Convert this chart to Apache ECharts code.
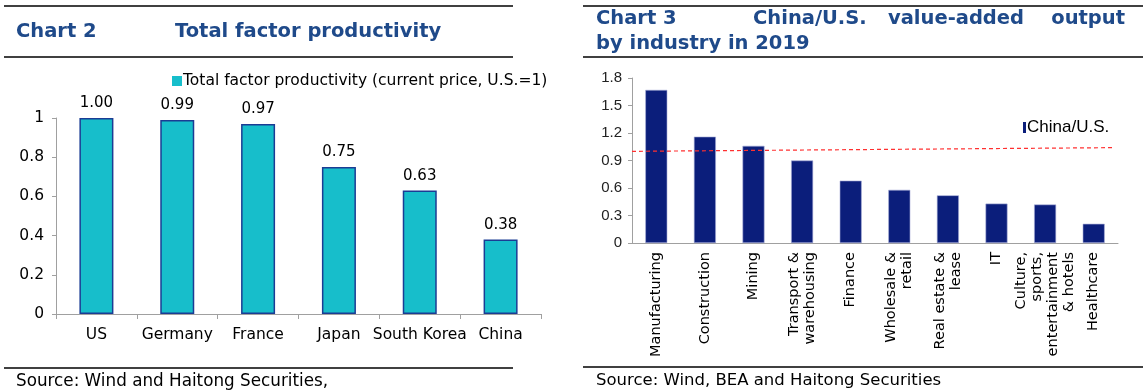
<!DOCTYPE html>
<html>
<head>
<meta charset="utf-8">
<script src="https://cdn.jsdelivr.net/npm/echarts@6/dist/echarts.min.js"></script>
<style>
html,body{margin:0;padding:0;background:#fff;}
#c{width:1147px;height:392px;}
</style>
</head>
<body>
<div id="c"></div>
<script>
// ---- Chart 2 data ----
const tfpCountries = ['US', 'Germany', 'France', 'Japan', 'South Korea', 'China'];
const tfpValues = [1.00, 0.99, 0.97, 0.75, 0.63, 0.38];
const tfpSeriesName = 'Total factor productivity (current price, U.S.=1)';
const tfpTicks = { min: 0, max: 1, interval: 0.2 };

// ---- Chart 3 data ----
const industries = ['Manufacturing', 'Construction', 'Mining', 'Transport &\nwarehousing', 'Finance',
  'Wholesale &\nretail', 'Real estate &\nlease', 'IT', 'Culture,\nsports,\nentertainment\n& hotels', 'Healthcare'];
const chinaUsRatio = [1.67, 1.16, 1.06, 0.90, 0.68, 0.58, 0.52, 0.43, 0.42, 0.21];
const ratioSeriesName = 'China/U.S.';
const ratioTicks = { min: 0, max: 1.8, interval: 0.3 };
// dashed reference line (relative horizontal position 0..1, value)
const refLineX = [0, 0.988];
const refLineY = [1.0, 1.04];

const titleColor = '#1F4A8A';
const verd = 'DejaVu Sans';
const arial = 'Liberation Sans';

const chart = echarts.init(document.getElementById('c'), null, { renderer: 'canvas' });

function hline(x1, x2, y) {
  return { type: 'line', shape: { x1: x1, y1: y, x2: x2, y2: y }, style: { stroke: '#000', lineWidth: 1.5 }, silent: true };
}
function txt(x, y, s, opts) {
  return { type: 'text', x: x, y: y, style: Object.assign({
    text: s, fill: titleColor, font: 'bold 19.5px "' + verd + '"', textVerticalAlign: 'middle' }, opts || {}) };
}

const option = {
  animation: false,
  backgroundColor: '#fff',
  textStyle: { fontFamily: verd },
  graphic: [
    hline(4, 513, 6), hline(4, 513, 57),
    hline(583, 1143, 6), hline(583, 1143, 57),
    hline(4, 513, 368), hline(583, 1143, 367),
    txt(16, 32, 'Chart 2'),
    txt(175, 32, 'Total factor productivity'),
    txt(596, 19, 'Chart 3'),
    txt(753, 19, 'China/U.S.'),
    txt(888, 19, 'value-added'),
    txt(1125, 19, 'output', { textAlign: 'right' }),
    txt(596, 44, 'by industry in 2019'),
    txt(16, 382, 'Source: Wind and Haitong Securities,', { fill: '#000', font: '16.8px "' + verd + '"' }),
    txt(596, 381, 'Source: Wind, BEA and Haitong Securities', { fill: '#000', font: '16.5px "' + verd + '"' })
  ],
  legend: [
    {
      data: [tfpSeriesName], left: 167, top: 68, itemWidth: 10, itemHeight: 10, icon: 'rect',
      itemStyle: { borderWidth: 0 },
      textStyle: { fontFamily: verd, fontSize: 15.5, color: '#000', padding: [0, 0, 0, -4] }
    },
    {
      data: [ratioSeriesName], left: 1018, top: 114, itemWidth: 3, itemHeight: 11, icon: 'rect',
      itemStyle: { borderWidth: 0 },
      textStyle: { fontFamily: arial, fontSize: 17, color: '#000', padding: [0, 0, 0, -4] }
    }
  ],
  grid: [
    { left: 56, right: 606, top: 118, bottom: 78, containLabel: false },
    { left: 632, right: 29, top: 78, bottom: 149, containLabel: false }
  ],
  xAxis: [
    {
      type: 'category', gridIndex: 0, data: tfpCountries,
      axisLine: { lineStyle: { color: '#a0a0a0', width: 1 } },
      axisTick: { show: true, length: 5, lineStyle: { color: '#a0a0a0' } },
      axisLabel: { color: '#000', fontFamily: verd, fontSize: 15.5, margin: 13, interval: 0 }
    },
    {
      type: 'category', gridIndex: 1, data: industries,
      axisLine: { lineStyle: { color: '#a0a0a0', width: 1 } },
      axisTick: { show: false },
      axisLabel: { color: '#000', fontFamily: verd, fontSize: 14.5, rotate: 90, margin: 9, interval: 0, lineHeight: 16 }
    },
    { type: 'value', gridIndex: 1, min: 0, max: 1, show: false }
  ],
  yAxis: [
    {
      type: 'value', gridIndex: 0, min: tfpTicks.min, max: tfpTicks.max, interval: tfpTicks.interval,
      splitLine: { show: false },
      axisLine: { show: true, lineStyle: { color: '#a0a0a0' } },
      axisTick: { show: true, length: 4, lineStyle: { color: '#a0a0a0' } },
      axisLabel: { color: '#000', fontFamily: verd, fontSize: 15.5, margin: 12, formatter: v => String(Math.round(v * 10) / 10) }
    },
    {
      type: 'value', gridIndex: 1, min: ratioTicks.min, max: ratioTicks.max, interval: ratioTicks.interval,
      splitLine: { show: false },
      axisLine: { show: true, lineStyle: { color: '#a0a0a0' } },
      axisTick: { show: true, length: 4, lineStyle: { color: '#a0a0a0' } },
      axisLabel: { color: '#222', fontFamily: arial, fontSize: 15, margin: 10,
        formatter: v => { const r = Math.round(v * 10) / 10; return r === 0 ? '0' : r.toFixed(1); } }
    }
  ],
  series: [
    {
      name: tfpSeriesName, type: 'bar', xAxisIndex: 0, yAxisIndex: 0, data: tfpValues, barWidth: 34,
      itemStyle: { color: '#17BECB', borderColor: '#1B3C94', borderWidth: 1.5 },
      label: { show: true, position: 'top', distance: 7, color: '#000', fontFamily: verd, fontSize: 15,
        formatter: p => p.value.toFixed(2) }
    },
    {
      name: ratioSeriesName, type: 'bar', xAxisIndex: 1, yAxisIndex: 1, data: chinaUsRatio, barWidth: 22,
      itemStyle: { color: '#0B1E7B', borderColor: '#a8acd6', borderWidth: 0.6 }
    },
    {
      name: 'ref', type: 'line', xAxisIndex: 2, yAxisIndex: 1,
      data: refLineX.map((x, i) => [x, refLineY[i]]),
      symbol: 'none', lineStyle: { color: '#ff3030', type: [4, 3], width: 1.2 }, z: 5
    }
  ]
};
chart.setOption(option);
</script>
</body>
</html>
